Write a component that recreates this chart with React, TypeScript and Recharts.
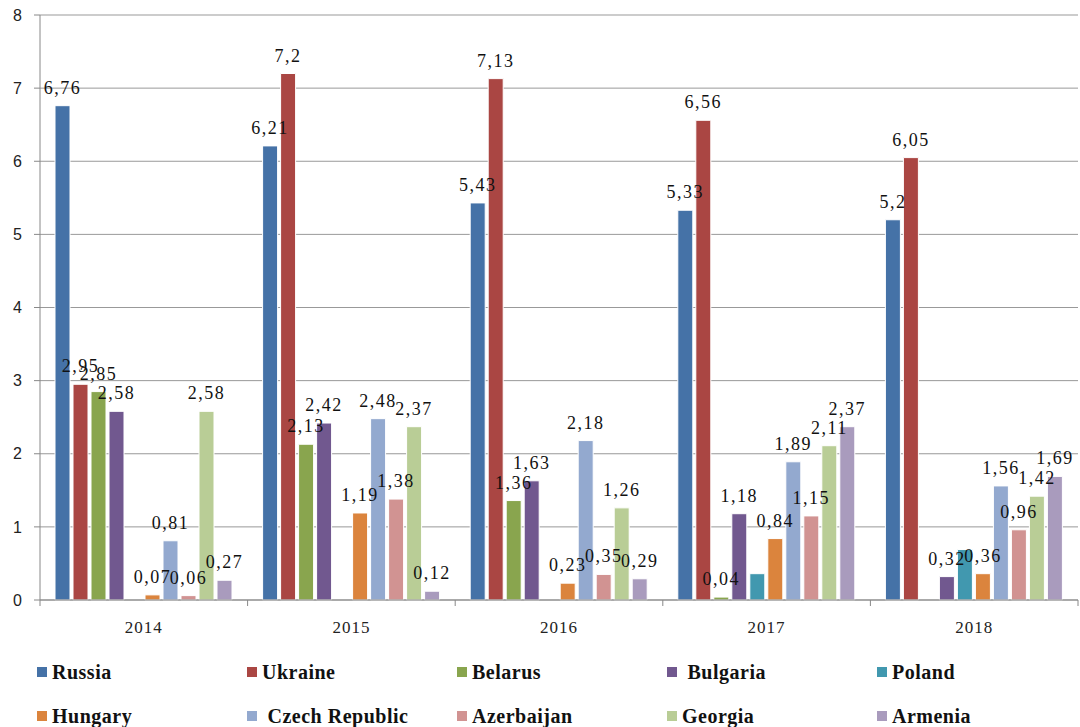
import React from 'react'
import { Bar, BarChart, CartesianGrid, LabelList, Legend, XAxis, YAxis } from 'recharts'

const years = ['2014', '2015', '2016', '2017', '2018']
const countries = ['Russia', 'Ukraine', 'Belarus', 'Bulgaria', 'Poland', 'Hungary', 'Czech Republic', 'Azerbaijan', 'Georgia', 'Armenia']
const colors = ['#4572A7', '#AA4643', '#89A54E', '#71588F', '#4198AF', '#DB843D', '#93A9CF', '#D19392', '#B9CD96', '#A99BBD']

const russia = [6.76, 6.21, 5.43, 5.33, 5.2]
const ukraine = [2.95, 7.2, 7.13, 6.56, 6.05]
const belarus = [2.85, 2.13, 1.36, 0.04, 0]
const bulgaria = [2.58, 2.42, 1.63, 1.18, 0.32]
const poland = [0, 0, 0, 0.36, 0.69]
const hungary = [0.07, 1.19, 0.23, 0.84, 0.36]
const czech = [0.81, 2.48, 2.18, 1.89, 1.56]
const azerbaijan = [0.06, 1.38, 0.35, 1.15, 0.96]
const georgia = [2.58, 2.37, 1.26, 2.11, 1.42]
const armenia = [0.27, 0.12, 0.29, 2.37, 1.69]
const yTicks = [0, 1, 2, 3, 4, 5, 6, 7, 8]

const series = [russia, ukraine, belarus, bulgaria, poland, hungary, czech, azerbaijan, georgia, armenia]
// Poland has no data labels in the source chart
const labelled = [true, true, true, true, false, true, true, true, true, true]

const data = years.map((year, i) => {
  const row: Record<string, string | number> = { year }
  countries.forEach((c, k) => {
    row[c] = series[k][i]
  })
  return row
})

const W = 1080
const H = 727
const margin = { top: 15, right: 2, left: 0, bottom: 0 }
const yAxisWidth = 40
const halfBand = (W - margin.left - margin.right - yAxisWidth) / years.length / 2

const serif = 'Liberation Serif'
const sans = 'Liberation Sans'

const fmt = (v: any) => String(v).replace('.', ',')

function YearTick(props: any) {
  const { x, y, payload, index } = props
  return (
    <g>
      <line x1={x - halfBand} x2={x - halfBand} y1={y - 6} y2={y} stroke='#888' />
      {index === years.length - 1 && (
        <line x1={x + halfBand} x2={x + halfBand} y1={y - 6} y2={y} stroke='#888' />
      )}
      <text x={x} y={y + 27} textAnchor='middle' fontFamily={serif} fontSize={17} letterSpacing={1} fill='#222'>
        {payload.value}
      </text>
    </g>
  )
}

function LegendBox() {
  return (
    <div
      style={{
        height: 87,
        display: 'grid',
        gridTemplateColumns: 'repeat(5, 210px)',
        paddingLeft: 37,
        fontFamily: serif,
        fontSize: 20,
        fontWeight: 'bold',
        letterSpacing: 0.5,
        color: '#111',
        boxSizing: 'border-box',
        paddingTop: 20,
        rowGap: 20,
      }}
    >
      {countries.map((c, k) => (
        <div key={c} style={{ display: 'flex', alignItems: 'center', height: 24, whiteSpace: 'nowrap' }}>
          <span style={{ width: 10, height: 10, background: colors[k], display: 'inline-block', marginRight: 5 }} />
          {c === 'Czech Republic' || c === 'Bulgaria' ? '\u00a0' + c : c}
        </div>
      ))}
    </div>
  )
}

export default function App() {
  return (
    <div style={{ position: 'absolute', left: 0, top: 0, width: W, height: H, background: '#fff' }}>
      <BarChart width={W} height={H} data={data} margin={margin} barCategoryGap={15} barGap={3}>
        <CartesianGrid vertical={false} stroke='#999' />
        <XAxis
          dataKey='year'
          height={40}
          tickLine={false}
          tickSize={6}
          tickMargin={0}
          axisLine={{ stroke: '#888' }}
          tick={<YearTick />}
          interval={0}
        />
        <YAxis
          width={yAxisWidth}
          domain={[0, 8]}
          ticks={yTicks}
          interval={0}
          axisLine={{ stroke: '#888' }}
          tickLine={{ stroke: '#888' }}
          tickSize={6}
          tickMargin={12}
          tick={{ fontFamily: sans, fontSize: 16, fill: '#222' }}
        />
        <Legend verticalAlign='bottom' align='left' content={<LegendBox />} />
        {countries.map((c, k) => (
          <Bar key={c} dataKey={c} fill={colors[k]} stroke='#fff' strokeWidth={1} isAnimationActive={false}>
            {labelled[k] && (
              <LabelList
                dataKey={c}
                position='top'
                offset={12}
                formatter={fmt}
                fontFamily={serif}
                fontSize={18}
                letterSpacing={1.5}
                fill='#111'
              />
            )}
          </Bar>
        ))}
      </BarChart>
    </div>
  )
}
